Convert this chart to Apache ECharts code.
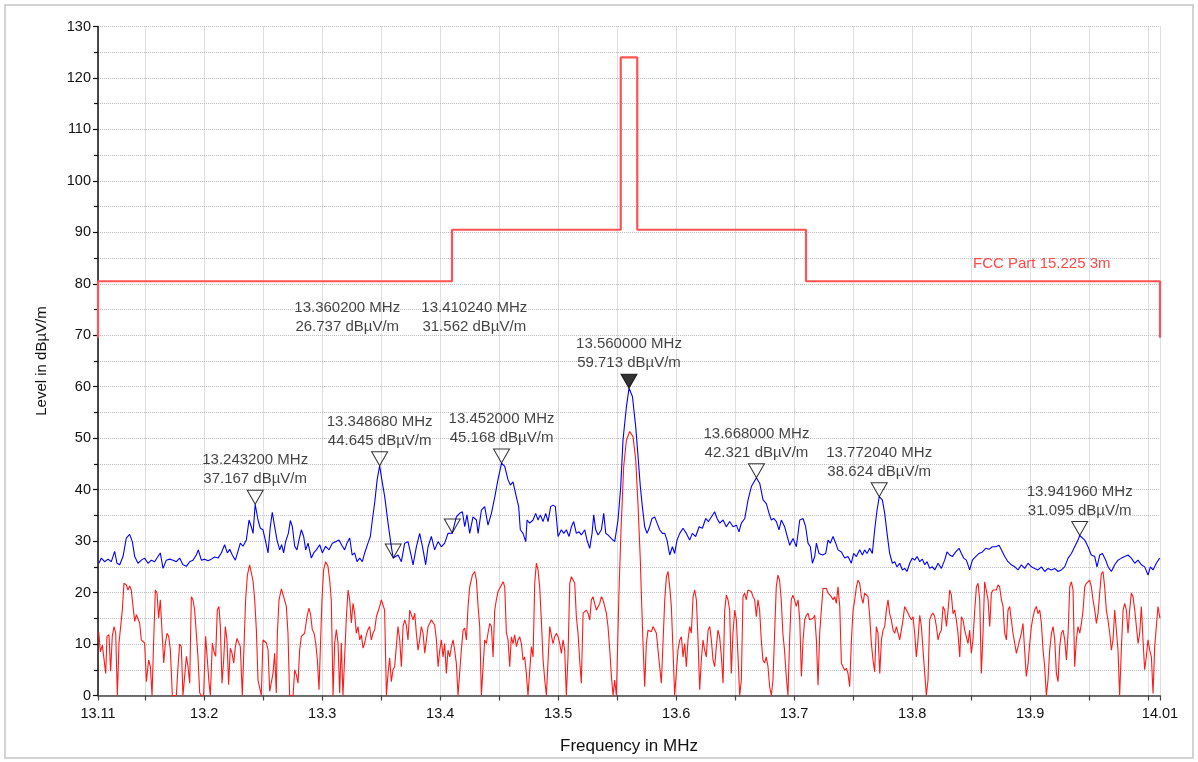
<!DOCTYPE html>
<html>
<head>
<meta charset="utf-8">
<script src="https://cdn.jsdelivr.net/npm/echarts@6/dist/echarts.min.js"></script>
<style>
  html, body { margin: 0; padding: 0; background: #fff; }
  #chart { width: 1198px; height: 762px; }
</style>
</head>
<body>
<div id="chart"></div>
<script>
// Axis ticks and labels (MHz)
const freqTicks = [13.11, 13.15, 13.2, 13.25, 13.3, 13.35, 13.4, 13.45, 13.5, 13.55, 13.6,
  13.65, 13.7, 13.75, 13.8, 13.85, 13.9, 13.95, 14.0, 14.01];
const freqLabels = [13.11, 13.2, 13.3, 13.4, 13.5, 13.6, 13.7, 13.8, 13.9, 14.01];

// FCC Part 15.225 limit at 3 m (stepped mask)
const limitFreq = [13.11, 13.11, 13.41, 13.41, 13.553, 13.553, 13.567, 13.567, 13.71, 13.71, 14.01, 14.01];
const limitLevel = [69.5, 80.5, 80.5, 90.5, 90.5, 124, 124, 90.5, 90.5, 80.5, 80.5, 69.5];

// Peak trace (blue)
const peakFreq = [
  13.1108, 13.1128, 13.1156, 13.1185, 13.1213, 13.1241, 13.1261, 13.1284, 13.1312, 13.1340,
  13.1368, 13.1391, 13.1411, 13.1439, 13.1467, 13.1495, 13.1524, 13.1552, 13.1580, 13.1608,
  13.1628, 13.1651, 13.1679, 13.1707, 13.1736, 13.1764, 13.1792, 13.1820, 13.1849, 13.1877,
  13.1905, 13.1933, 13.1950, 13.1976, 13.2004, 13.2032, 13.2060, 13.2089, 13.2117, 13.2145,
  13.2173, 13.2196, 13.2216, 13.2238, 13.2264, 13.2286, 13.2306, 13.2329, 13.2357, 13.2380,
  13.2399, 13.2414, 13.2432, 13.2456, 13.2476, 13.2498, 13.2518, 13.2541, 13.2560, 13.2577,
  13.2597, 13.2617, 13.2640, 13.2656, 13.2673, 13.2690, 13.2713, 13.2730, 13.2747, 13.2767,
  13.2786, 13.2803, 13.2823, 13.2843, 13.2860, 13.2880, 13.2908, 13.2928, 13.2950, 13.2979,
  13.3001, 13.3029, 13.3058, 13.3086, 13.3114, 13.3142, 13.3171, 13.3190, 13.3210, 13.3233,
  13.3254, 13.3275, 13.3295, 13.3318, 13.3340, 13.3360, 13.3388, 13.3408, 13.3425, 13.3445,
  13.3466, 13.34868, 13.3505, 13.3530, 13.3558, 13.3578, 13.3590, 13.3602, 13.3643, 13.3671,
  13.3699, 13.3727, 13.3756, 13.3770, 13.3798, 13.3826, 13.3855, 13.3877, 13.3897, 13.3925,
  13.3953, 13.3982, 13.4010, 13.4038, 13.4066, 13.41024, 13.4137, 13.4165, 13.4188, 13.4208,
  13.4227, 13.4250, 13.4278, 13.4307, 13.4321, 13.4349, 13.4377, 13.4405, 13.4434, 13.4462,
  13.4490, 13.4520, 13.4547, 13.4575, 13.4595, 13.4617, 13.4645, 13.4665, 13.4679, 13.4702,
  13.4725, 13.4736, 13.4758, 13.4787, 13.4809, 13.4829, 13.4849, 13.4871, 13.4894, 13.4914,
  13.4936, 13.4956, 13.4976, 13.4999, 13.5027, 13.5047, 13.5069, 13.5092, 13.5112, 13.5131,
  13.5154, 13.5177, 13.5196, 13.5225, 13.5244, 13.5267, 13.5287, 13.5301, 13.5318, 13.5338,
  13.5366, 13.5386, 13.5403, 13.5422, 13.5451, 13.5479, 13.5507, 13.5530, 13.5549, 13.5578,
  13.5600, 13.5629, 13.5657, 13.5677, 13.5696, 13.5713, 13.5733, 13.5753, 13.5775, 13.5795,
  13.5818, 13.5838, 13.5860, 13.5883, 13.5903, 13.5922, 13.5945, 13.5968, 13.5987, 13.6007,
  13.6030, 13.6058, 13.6086, 13.6114, 13.6137, 13.6165, 13.6194, 13.6222, 13.6250, 13.6273,
  13.6298, 13.6326, 13.6346, 13.6369, 13.6397, 13.6425, 13.6453, 13.6482, 13.6510, 13.6532,
  13.6552, 13.6581, 13.6609, 13.6637, 13.6680, 13.6708, 13.6736, 13.6764, 13.6787, 13.6806,
  13.6826, 13.6849, 13.6871, 13.6891, 13.6919, 13.6934, 13.6962, 13.6990, 13.7018, 13.7047,
  13.7075, 13.7097, 13.7117, 13.7137, 13.7154, 13.7174, 13.7188, 13.7210, 13.7239, 13.7267,
  13.7287, 13.7306, 13.7329, 13.7352, 13.7371, 13.7400, 13.7428, 13.7456, 13.7484, 13.7504,
  13.7527, 13.7555, 13.7578, 13.7597, 13.7617, 13.7640, 13.7662, 13.7682, 13.7702, 13.77204,
  13.7747, 13.7767, 13.7787, 13.7809, 13.7832, 13.7852, 13.7871, 13.7894, 13.7917, 13.7936,
  13.7956, 13.7979, 13.8001, 13.8021, 13.8041, 13.8064, 13.8086, 13.8106, 13.8126, 13.8148,
  13.8171, 13.8191, 13.8219, 13.8247, 13.8275, 13.8295, 13.8318, 13.8340, 13.8369, 13.8397,
  13.8417, 13.8436, 13.8459, 13.8487, 13.8510, 13.8538, 13.8566, 13.8595, 13.8623, 13.8651,
  13.8679, 13.8708, 13.8736, 13.8756, 13.8784, 13.8812, 13.8840, 13.8869, 13.8897, 13.8925,
  13.8953, 13.8982, 13.9010, 13.9038, 13.9066, 13.9095, 13.9123, 13.9151, 13.9179, 13.9208,
  13.9236, 13.9264, 13.9292, 13.9321, 13.9349, 13.9377, 13.9405, 13.94196, 13.9462, 13.9490,
  13.9518, 13.9547, 13.9566, 13.9589, 13.9612, 13.9640, 13.9660, 13.9688, 13.9716, 13.9744,
  13.9773, 13.9801, 13.9829, 13.9857, 13.9886, 13.9914, 13.9942, 13.9970, 13.9999, 14.0018,
  14.0041, 14.0069, 14.0097, 14.0100
];
const peakLevel = [
  25.7, 26.7, 26.0, 26.5, 26.0, 28.0, 25.7, 25.4, 27.0, 30.6,
  31.3, 29.9, 27.0, 25.7, 26.3, 26.7, 25.7, 26.3, 26.0, 27.0,
  27.7, 24.7, 26.3, 26.5, 26.3, 26.0, 26.7, 25.4, 25.1, 26.0,
  26.3, 27.3, 28.3, 26.3, 26.5, 26.2, 26.5, 26.9, 26.7, 27.7,
  29.3, 27.7, 28.4, 27.3, 26.3, 28.0, 29.6, 29.0, 30.2, 34.1,
  32.8, 31.5, 37.167, 34.1, 32.5, 32.2, 30.2, 27.7, 32.8, 35.6,
  32.8, 30.2, 28.3, 29.3, 27.7, 29.9, 31.5, 34.0, 32.8, 29.0,
  28.3, 30.2, 32.2, 30.9, 28.3, 29.6, 26.7, 27.7, 28.3, 29.3,
  27.7, 29.0, 28.3, 29.6, 29.9, 30.2, 29.0, 28.3, 29.6, 30.6,
  27.3, 27.7, 26.0, 26.7, 26.0, 27.7, 29.6, 30.9, 34.1, 37.5,
  42.0, 44.645, 42.0, 38.6, 33.5, 30.2, 28.3, 26.737, 27.3, 26.0,
  29.6, 29.9, 27.0, 25.4, 28.9, 31.5, 28.3, 25.4, 28.9, 30.9,
  28.3, 29.9, 28.9, 29.6, 31.5, 31.562, 34.7, 35.4, 35.7, 32.8,
  35.1, 31.5, 34.7, 34.1, 31.5, 36.0, 36.7, 33.1, 35.4, 38.5,
  42.0, 45.168, 44.5, 41.9, 40.9, 41.5, 38.6, 36.7, 32.2, 31.5,
  29.9, 34.1, 33.5, 34.1, 35.4, 34.1, 35.1, 33.8, 35.4, 33.8,
  36.7, 37.0, 36.7, 30.9, 32.2, 31.5, 32.2, 30.9, 32.8, 33.8,
  31.5, 31.8, 31.2, 32.2, 30.2, 28.6, 31.5, 35.1, 32.2, 31.2,
  32.2, 35.4, 31.5, 31.2, 30.5, 29.9, 34.1, 40.6, 49.6, 56.1,
  59.713, 58.1, 52.2, 46.4, 40.6, 36.7, 32.8, 31.5, 32.8, 34.4,
  34.7, 33.5, 32.2, 31.5, 31.5, 30.2, 27.3, 28.9, 27.6, 30.2,
  31.5, 32.5, 31.5, 30.2, 31.5, 30.9, 32.8, 32.5, 34.4, 33.8,
  34.7, 35.7, 34.4, 33.5, 34.1, 32.8, 33.8, 32.8, 33.1, 31.8,
  33.5, 34.4, 38.0, 40.6, 42.321, 41.2, 38.0, 37.3, 35.4, 34.1,
  34.4, 33.8, 32.2, 34.1, 32.8, 31.5, 29.2, 30.5, 28.9, 34.1,
  34.4, 32.8, 29.6, 28.9, 25.7, 27.0, 29.6, 27.6, 27.3, 27.6,
  30.2, 29.6, 30.9, 29.6, 28.3, 27.9, 26.7, 27.0, 25.7, 27.6,
  27.0, 28.3, 27.3, 28.3, 27.6, 28.6, 27.6, 32.2, 36.0, 38.624,
  38.0, 35.4, 31.5, 27.6, 25.7, 26.0, 25.0, 25.7, 24.4, 24.7,
  24.1, 25.7, 26.7, 26.3, 27.0, 26.0, 26.5, 25.4, 26.0, 24.7,
  25.0, 24.4, 25.7, 24.7, 26.3, 27.9, 27.3, 27.0, 27.9, 28.6,
  27.6, 26.7, 26.3, 24.4, 26.3, 27.0, 27.6, 27.9, 28.6, 28.4,
  28.9, 28.9, 29.2, 28.3, 27.0, 26.0, 25.4, 25.0, 24.4, 25.4,
  24.7, 25.7, 25.0, 24.7, 24.4, 25.0, 24.1, 24.7, 24.4, 24.7,
  24.1, 24.4, 25.0, 26.7, 27.6, 28.9, 30.2, 31.095, 30.2, 28.9,
  27.3, 27.0, 25.0, 27.3, 27.6, 26.3, 25.0, 24.1, 25.4, 26.3,
  26.7, 27.0, 27.3, 26.7, 25.7, 26.3, 25.4, 25.0, 23.4, 25.0,
  24.4, 25.7, 26.7, 26.8
];

// Average trace (red)
const avgFreq = [
  13.1106, 13.1120, 13.1137, 13.1151, 13.1165, 13.1176, 13.1193, 13.1207, 13.1221, 13.1236,
  13.1250, 13.1264, 13.1278, 13.1289, 13.1306, 13.1320, 13.1340, 13.1354, 13.1368, 13.1382,
  13.1397, 13.1411, 13.1425, 13.1439, 13.1453, 13.1467, 13.1481, 13.1495, 13.1510, 13.1529,
  13.1544, 13.1558, 13.1572, 13.1586, 13.1600, 13.1614, 13.1628, 13.1642, 13.1657, 13.1671,
  13.1685, 13.1699, 13.1713, 13.1730, 13.1744, 13.1764, 13.1778, 13.1792, 13.1806, 13.1820,
  13.1834, 13.1849, 13.1863, 13.1877, 13.1891, 13.1905, 13.1919, 13.1933, 13.1947, 13.1962,
  13.1976, 13.1995, 13.2012, 13.2027, 13.2041, 13.2052, 13.2069, 13.2083, 13.2097, 13.2111,
  13.2125, 13.2137, 13.2151, 13.2165, 13.2179, 13.2193, 13.2207, 13.2221, 13.2236, 13.2250,
  13.2264, 13.2278, 13.2292, 13.2306, 13.2323, 13.2337, 13.2351, 13.2366, 13.2385, 13.2399,
  13.2414, 13.2428, 13.2442, 13.2456, 13.2470, 13.2484, 13.2498, 13.2512, 13.2527, 13.2541,
  13.2555, 13.2569, 13.2583, 13.2597, 13.2611, 13.2620, 13.2634, 13.2654, 13.2673, 13.2696,
  13.2710, 13.2724, 13.2738, 13.2753, 13.2767, 13.2781, 13.2795, 13.2809, 13.2823, 13.2837,
  13.2851, 13.2871, 13.2888, 13.2902, 13.2916, 13.2931, 13.2945, 13.2959, 13.2973, 13.2984,
  13.2998, 13.3012, 13.3029, 13.3049, 13.3063, 13.3077, 13.3092, 13.3106, 13.3120, 13.3134,
  13.3148, 13.3162, 13.3176, 13.3190, 13.3205, 13.3219, 13.3233, 13.3247, 13.3261, 13.3275,
  13.3289, 13.3303, 13.3318, 13.3332, 13.3346, 13.3360, 13.3374, 13.3388, 13.3402, 13.3416,
  13.3431, 13.3445, 13.3459, 13.3473, 13.3487, 13.3501, 13.3515, 13.3529, 13.3544, 13.3558,
  13.3572, 13.3586, 13.3600, 13.3614, 13.3628, 13.3642, 13.3657, 13.3671, 13.3685, 13.3699,
  13.3713, 13.3727, 13.3742, 13.3756, 13.3770, 13.3784, 13.3798, 13.3812, 13.3826, 13.3840,
  13.3855, 13.3869, 13.3883, 13.3897, 13.3911, 13.3925, 13.3939, 13.3953, 13.3968, 13.3982,
  13.3996, 13.4010, 13.4024, 13.4038, 13.4052, 13.4066, 13.4081, 13.4095, 13.4109, 13.4123,
  13.4137, 13.4151, 13.4165, 13.4179, 13.4194, 13.4208, 13.4222, 13.4236, 13.4250, 13.4273,
  13.4292, 13.4307, 13.4321, 13.4335, 13.4349, 13.4363, 13.4377, 13.4391, 13.4405, 13.4420,
  13.4434, 13.4448, 13.4462, 13.4476, 13.4490, 13.4510, 13.4533, 13.4547, 13.4561, 13.4575,
  13.4589, 13.4603, 13.4617, 13.4631, 13.4646, 13.4660, 13.4674, 13.4688, 13.4702, 13.4716,
  13.4730, 13.4744, 13.4759, 13.4773, 13.4787, 13.4801, 13.4815, 13.4829, 13.4843, 13.4857,
  13.4872, 13.4886, 13.4900, 13.4914, 13.4928, 13.4942, 13.4956, 13.4970, 13.4985, 13.4999,
  13.5013, 13.5027, 13.5041, 13.5055, 13.5069, 13.5083, 13.5098, 13.5112, 13.5126, 13.5140,
  13.5154, 13.5168, 13.5182, 13.5196, 13.5211, 13.5225, 13.5239, 13.5253, 13.5267, 13.5281,
  13.5295, 13.5309, 13.5324, 13.5338, 13.5352, 13.5366, 13.5380, 13.5394, 13.5408, 13.5422,
  13.5437, 13.5451, 13.5465, 13.5479, 13.5493, 13.5515, 13.5532, 13.5555, 13.5578, 13.5606,
  13.5634, 13.5657, 13.5677, 13.5696, 13.5705, 13.5719, 13.5733, 13.5747, 13.5761, 13.5776,
  13.5790, 13.5804, 13.5818, 13.5832, 13.5846, 13.5860, 13.5874, 13.5888, 13.5903, 13.5917,
  13.5931, 13.5945, 13.5959, 13.5973, 13.5987, 13.6001, 13.6015, 13.6030, 13.6044, 13.6058,
  13.6072, 13.6086, 13.6100, 13.6114, 13.6128, 13.6143, 13.6157, 13.6171, 13.6185, 13.6199,
  13.6213, 13.6227, 13.6241, 13.6255, 13.6270, 13.6284, 13.6298, 13.6312, 13.6326, 13.6340,
  13.6354, 13.6368, 13.6383, 13.6397, 13.6411, 13.6425, 13.6439, 13.6453, 13.6467, 13.6481,
  13.6496, 13.6510, 13.6524, 13.6538, 13.6552, 13.6566, 13.6580, 13.6594, 13.6608, 13.6622,
  13.6637, 13.6651, 13.6665, 13.6679, 13.6693, 13.6707, 13.6721, 13.6735, 13.6749, 13.6763,
  13.6778, 13.6792, 13.6806, 13.6820, 13.6834, 13.6848, 13.6862, 13.6876, 13.6890, 13.6904,
  13.6918, 13.6933, 13.6947, 13.6961, 13.6975, 13.6989, 13.7003, 13.7017, 13.7033, 13.7047,
  13.7061, 13.7075, 13.7089, 13.7103, 13.7117, 13.7131, 13.7146, 13.7160, 13.7174, 13.7188,
  13.7202, 13.7216, 13.7230, 13.7244, 13.7258, 13.7273, 13.7287, 13.7301, 13.7315, 13.7329,
  13.7343, 13.7357, 13.7371, 13.7386, 13.7400, 13.7414, 13.7428, 13.7442, 13.7456, 13.7470,
  13.7485, 13.7499, 13.7513, 13.7527, 13.7541, 13.7555, 13.7569, 13.7583, 13.7597, 13.7612,
  13.7626, 13.7640, 13.7654, 13.7668, 13.7682, 13.7696, 13.7710, 13.7725, 13.7739, 13.7753,
  13.7767, 13.7781, 13.7795, 13.7809, 13.7823, 13.7838, 13.7852, 13.7866, 13.7880, 13.7894,
  13.7908, 13.7922, 13.7936, 13.7951, 13.7965, 13.7979, 13.7993, 13.8007, 13.8021, 13.8035,
  13.8049, 13.8064, 13.8078, 13.8092, 13.8106, 13.8120, 13.8134, 13.8148, 13.8162, 13.8177,
  13.8191, 13.8205, 13.8219, 13.8233, 13.8247, 13.8261, 13.8275, 13.8290, 13.8304, 13.8318,
  13.8332, 13.8346, 13.8360, 13.8374, 13.8388, 13.8403, 13.8417, 13.8431, 13.8445, 13.8459,
  13.8473, 13.8487, 13.8501, 13.8515, 13.8530, 13.8544, 13.8558, 13.8572, 13.8586, 13.8600,
  13.8614, 13.8629, 13.8643, 13.8657, 13.8671, 13.8685, 13.8699, 13.8713, 13.8727, 13.8741,
  13.8756, 13.8770, 13.8784, 13.8798, 13.8812, 13.8826, 13.8840, 13.8854, 13.8869, 13.8883,
  13.8897, 13.8911, 13.8925, 13.8939, 13.8953, 13.8967, 13.8982, 13.8996, 13.9010, 13.9024,
  13.9038, 13.9052, 13.9066, 13.9081, 13.9095, 13.9109, 13.9123, 13.9137, 13.9151, 13.9165,
  13.9180, 13.9194, 13.9208, 13.9222, 13.9236, 13.9250, 13.9264, 13.9278, 13.9293, 13.9307,
  13.9321, 13.9335, 13.9349, 13.9363, 13.9377, 13.9391, 13.9405, 13.9420, 13.9434, 13.9448,
  13.9462, 13.9476, 13.9490, 13.9504, 13.9518, 13.9532, 13.9547, 13.9561, 13.9575, 13.9589,
  13.9603, 13.9617, 13.9631, 13.9645, 13.9659, 13.9674, 13.9688, 13.9702, 13.9716, 13.9730,
  13.9744, 13.9758, 13.9772, 13.9787, 13.9801, 13.9815, 13.9829, 13.9843, 13.9857, 13.9871,
  13.9886, 13.9900, 13.9914, 13.9928, 13.9942, 13.9956, 13.9970, 13.9984, 13.9998, 14.0013,
  14.0027, 14.0041, 14.0055, 14.0069, 14.0083, 14.0097, 14.0100
];
const avgLevel = [
  12.4, 8.5, 9.8, 9.5, 4.3, 11.5, 11.8, 4.7, 11.5, 13.4,
  12.1, 0, 10.2, 10.2, 16.6, 21.8, 21.5, 20.5, 21.3, 20.5,
  17.3, 14.4, 15.7, 15.7, 14.1, 10.8, 10.5, 10.2, 2.7, 6.9,
  5.6, 0, 10.8, 20.5, 19.9, 15.0, 18.6, 18.6, 6.3, 10.2,
  12.1, 11.5, 8.9, 0, 0, 0, 5.6, 10.0, 9.5, 0,
  0, 7.6, 5.6, 2.4, 19.2, 18.6, 16.6, 12.1, 7.6, 0.5,
  0, 0, 11.5, 11.5, 2.4, 0, 10.2, 8.5, 7.6, 16.6,
  17.3, 13.4, 2.4, 6.9, 13.4, 10.8, 2.1, 9.2, 8.2, 6.3,
  9.5, 11.1, 11.1, 9.5, 0, 0, 18.6, 23.4, 25.4, 25.1,
  22.2, 18.6, 12.8, 3.0, 2.7, 0, 10.8, 11.1, 10.2, 8.9,
  0.8, 0.5, 4.3, 8.2, 0.5, 12.1, 18.6, 20.7, 19.2, 17.3,
  12.1, 0, 0, 0, 5.0, 4.0, 2.4, 8.9, 11.5, 11.8,
  12.1, 15.3, 17.0, 15.7, 12.8, 12.1, 10.2, 6.9, 1.1, 8.9,
  18.6, 24.4, 26.0, 25.1, 22.5, 18.6, 0, 10.2, 12.8, 10.2,
  0.5, 10.2, 0, 0, 15.3, 20.5, 18.6, 14.1, 17.9, 16.0,
  12.1, 13.4, 10.8, 11.8, 9.2, 10.2, 11.8, 12.8, 13.4, 10.8,
  12.1, 12.8, 15.3, 15.3, 17.3, 18.6, 18.3, 16.6, 0, 4.3,
  7.3, 2.7, 5.0, 5.6, 9.5, 13.4, 10.8, 5.6, 13.4, 14.7,
  13.7, 10.8, 16.6, 16.9, 14.7, 16.0, 12.1, 8.8, 10.8, 13.4,
  12.1, 8.2, 10.8, 13.4, 14.0, 14.7, 14.7, 13.7, 10.8, 5.6,
  8.8, 10.8, 7.5, 10.1, 4.3, 8.8, 7.5, 9.5, 10.8, 8.8,
  6.2, 0, 0, 8.8, 12.7, 13.1, 10.8, 17.3, 21.1, 23.4,
  24.1, 22.4, 17.3, 13.4, 0, 0, 10.8, 10.1, 12.1, 14.0,
  13.4, 7.5, 16.6, 18.6, 20.2, 21.1, 22.1, 21.1, 12.1, 10.8,
  5.6, 11.4, 10.1, 11.8, 9.5, 10.8, 11.4, 10.1, 6.9, 7.5,
  4.3, 0, 0, 9.5, 7.5, 21.8, 25.7, 24.4, 21.1, 14.7,
  6.9, 3.0, 0, 0, 13.4, 13.7, 10.1, 11.4, 12.1, 11.4,
  10.1, 8.2, 10.8, 8.8, 0, 7.5, 21.8, 23.1, 23.4, 21.8,
  15.3, 12.1, 6.9, 2.4, 16.0, 16.3, 16.6, 16.0, 14.7, 18.6,
  19.2, 17.9, 16.6, 16.6, 17.9, 19.2, 18.6, 17.3, 16.0, 13.4,
  8.8, 3.7, 0, 3.0, 0, 20.0, 32.0, 44.5, 49.6, 51.3,
  50.3, 45.8, 36.7, 26.3, 19.5, 10.0, 1.7, 10.1, 12.7, 13.0,
  12.4, 13.4, 13.7, 12.1, 8.8, 5.6, 2.4, 10.1, 18.6, 23.1,
  24.1, 21.1, 17.3, 8.8, 0, 0, 8.8, 10.8, 11.4, 7.5,
  10.1, 5.6, 10.8, 13.4, 12.1, 19.2, 20.5, 18.6, 10.8, 1.1,
  6.9, 10.8, 8.8, 7.5, 12.7, 13.4, 10.8, 6.9, 5.6, 9.5,
  12.7, 11.4, 7.5, 2.4, 16.6, 19.5, 18.6, 16.6, 4.3, 12.1,
  16.6, 14.7, 7.5, 0, 3.0, 19.2, 19.9, 18.6, 20.5, 20.8,
  20.2, 19.2, 18.6, 15.3, 18.6, 16.6, 10.8, 6.9, 6.3, 7.5,
  5.6, 1.7, 0, 3.0, 12.1, 21.1, 23.4, 22.4, 18.6, 12.1,
  8.8, 3.6, 0, 10.8, 18.6, 19.5, 18.6, 17.3, 18.6, 14.7,
  3.7, 10.8, 14.7, 15.6, 16.0, 14.7, 14.4, 15.0, 15.6, 10.8,
  2.0, 12.1, 16.6, 20.8, 20.5, 20.8, 19.9, 20.2, 19.2, 18.6,
  19.2, 17.9, 21.1, 17.3, 6.2, 5.6, 4.9, 5.3, 4.3, 1.7,
  10.8, 16.6, 18.6, 21.1, 22.4, 21.8, 19.2, 17.9, 19.9, 20.2,
  19.2, 15.3, 10.1, 6.9, 4.6, 13.4, 12.1, 4.3, 10.8, 12.7,
  13.4, 16.6, 18.6, 15.9, 14.7, 12.7, 12.1, 13.4, 12.1, 10.8,
  12.7, 14.7, 17.3, 17.0, 16.0, 15.3, 14.7, 15.3, 12.1, 7.5,
  10.8, 15.6, 13.4, 8.8, 4.3, 0, 3.0, 14.7, 15.6, 16.0,
  15.3, 13.4, 10.8, 12.1, 12.7, 17.3, 16.6, 13.4, 16.6, 20.5,
  19.5, 15.9, 16.6, 14.7, 12.1, 7.5, 15.3, 14.7, 12.7, 11.4,
  10.1, 12.7, 8.2, 10.8, 16.6, 21.1, 21.8, 18.6, 4.3, 12.1,
  22.1, 21.8, 18.6, 13.4, 19.9, 20.5, 20.2, 20.5, 21.5, 21.1,
  18.6, 17.3, 12.1, 10.8, 16.6, 17.3, 14.7, 12.1, 10.1, 8.2,
  9.5, 10.8, 12.1, 14.0, 8.8, 3.7, 6.2, 10.1, 13.4, 15.3,
  16.6, 17.3, 15.9, 16.6, 14.0, 8.8, 5.6, 0, 3.0, 8.8,
  12.1, 13.4, 10.8, 4.3, 2.7, 9.5, 12.1, 12.7, 10.8, 6.9,
  12.1, 21.1, 22.1, 20.5, 5.6, 10.8, 13.4, 12.1, 14.0, 16.6,
  21.1, 21.8, 22.1, 22.4, 21.1, 18.6, 16.6, 14.0, 16.0, 19.9,
  23.7, 24.1, 21.1, 16.6, 14.7, 12.1, 8.8, 10.8, 16.6, 16.9,
  8.8, 0, 8.8, 16.6, 17.9, 16.6, 12.1, 16.6, 19.9, 19.2,
  16.6, 13.4, 10.1, 12.1, 17.3, 10.8, 5.0, 7.5, 10.8, 8.8,
  7.5, 0.4, 9.5, 13.4, 17.3, 17.6, 15.0
];

// Marker readouts
const markerFreq = [13.2432, 13.34868, 13.3602, 13.41024, 13.452, 13.56, 13.668, 13.77204, 13.94196];
const markerLevel = [37.167, 44.645, 26.737, 31.562, 45.168, 59.713, 42.321, 38.624, 31.095];
const markerFilled = [false, false, false, false, false, true, false, false, false];

const limitName = 'FCC Part 15.225 3m';
const limitLabelAt = [13.9098, 80.5];

const zip = (xs, ys) => xs.map((x, i) => [x, ys[i]]);

// Two of the readouts sit low on the trace; their text is lifted above the mask step
const labelShift = { 2: [-46, -206], 3: [22, -181] };

const FONT = '"Liberation Sans", Arial, sans-serif';
const TEXT = '#111';
const TRI = 'path://M0,0 L16,0 L8,14 Z';

const chart = echarts.init(document.getElementById('chart'), null, { renderer: 'canvas' });

chart.setOption({
  animation: false,
  backgroundColor: '#ffffff',
  textStyle: { fontFamily: FONT },
  graphic: [{
    type: 'rect',
    shape: { x: 5, y: 5, width: 1188, height: 753 },
    style: { fill: 'none', stroke: '#d3d3d3', lineWidth: 2 },
    silent: true,
    z: -10
  }],
  grid: { left: 98, right: 38, top: 26.5, bottom: 66.5 },
  xAxis: {
    type: 'value',
    min: 13.11,
    max: 14.01,
    name: 'Frequency in MHz',
    nameLocation: 'middle',
    nameGap: 42,
    nameTextStyle: { fontSize: 17, color: TEXT, fontFamily: FONT },
    axisLine: { show: true, onZero: false, lineStyle: { color: '#444', width: 1.5 } },
    axisTick: { show: true, customValues: freqTicks, length: 5, lineStyle: { color: '#444', width: 1.2 } },
    axisLabel: {
      customValues: freqLabels,
      formatter: v => String(+v.toFixed(2)),
      fontSize: 14.5, color: TEXT, margin: 11, fontFamily: FONT
    },
    splitLine: { show: true, lineStyle: { type: 'dotted', color: '#bdbdbd', width: 1 } }
  },
  yAxis: {
    type: 'value',
    min: 0,
    max: 130,
    interval: 10,
    name: 'Level in dBµV/m',
    nameLocation: 'middle',
    nameGap: 49,
    nameTextStyle: { fontSize: 15, color: TEXT, fontFamily: FONT },
    axisLine: { show: true, lineStyle: { color: '#111', width: 1.5 } },
    axisTick: { show: true, length: 5, lineStyle: { color: '#111', width: 1.2 } },
    minorTick: { show: true, splitNumber: 2, length: 4, lineStyle: { color: '#111', width: 1.2 } },
    axisLabel: { fontSize: 14.5, color: TEXT, margin: 7, fontFamily: FONT },
    splitLine: { show: true, lineStyle: { type: 'dotted', color: '#bdbdbd', width: 1 } },
    minorSplitLine: { show: true, lineStyle: { type: 'dotted', color: '#bdbdbd', width: 1 } }
  },
  series: [
    {
      name: 'Average',
      type: 'line',
      data: zip(avgFreq, avgLevel),
      showSymbol: false,
      symbol: 'none',
      lineStyle: { color: '#ff1a1a', width: 1.1 },
      z: 2
    },
    {
      name: 'Peak',
      type: 'line',
      data: zip(peakFreq, peakLevel),
      showSymbol: false,
      symbol: 'none',
      lineStyle: { color: '#0000ff', width: 1.1 },
      z: 3
    },
    {
      name: limitName,
      type: 'line',
      data: zip(limitFreq, limitLevel),
      showSymbol: false,
      symbol: 'none',
      clip: false,
      lineStyle: { color: '#ff5252', width: 2.2 },
      z: 4,
      markPoint: {
        symbol: 'circle',
        symbolSize: 0,
        data: [{ coord: limitLabelAt }],
        label: {
          show: true,
          position: 'inside',
          offset: [0, -17],
          formatter: limitName,
          color: '#ff4a4a',
          fontSize: 15,
          fontFamily: FONT
        }
      }
    },
    {
      name: 'Markers',
      type: 'scatter',
      data: markerFreq.map((f, i) => ({
        value: [f, markerLevel[i]],
        itemStyle: markerFilled[i]
          ? { color: '#000', borderColor: '#000', borderWidth: 1 }
          : { color: 'rgba(255,255,255,0)', borderColor: '#000', borderWidth: 1 },
        label: labelShift[i] ? { offset: labelShift[i] } : undefined
      })),
      symbol: TRI,
      symbolSize: [16, 14],
      symbolOffset: [0, '-50%'],
      symbolKeepAspect: false,
      label: {
        show: true,
        position: 'top',
        distance: 1,
        align: 'center',
        lineHeight: 19,
        fontSize: 15,
        color: TEXT,
        fontFamily: FONT,
        formatter: p => p.value[0].toFixed(6) + ' MHz\n' + p.value[1].toFixed(3) + ' dBµV/m'
      },
      z: 10
    }
  ]
});
</script>
</body>
</html>
